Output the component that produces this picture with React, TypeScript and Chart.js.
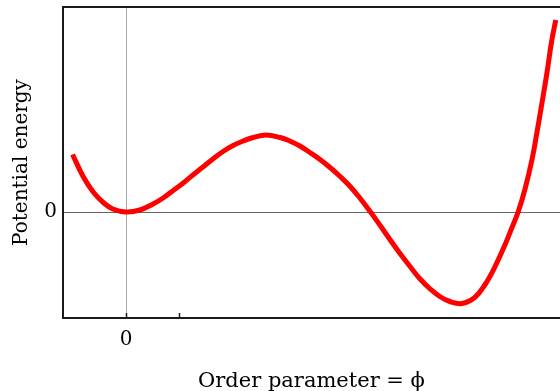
import React, { useEffect, useRef } from "react";
import { Chart, registerables } from "chart.js";

Chart.register(...registerables);

// Order parameter (phi) values
const PHI = [
  -1.01, -0.81, -0.62, -0.43, -0.25, 0, 0.26, 0.51, 0.7, 0.89, 1.08, 1.26, 1.45,
  1.64, 1.83, 2.02, 2.21, 2.4, 2.64, 2.91, 3.09, 3.28, 3.47, 3.66, 3.85, 4.04,
  4.23, 4.42, 4.6, 4.79, 4.98, 5.17, 5.36, 5.55, 5.74, 5.92, 6.11, 6.34, 6.58,
  6.77, 6.96, 7.15, 7.28, 7.4, 7.53, 7.66, 7.75, 7.84, 7.94, 8.03, 8.11,
];
// Potential energy values
const ENERGY = [
  1.15, 0.71, 0.4, 0.19, 0.06, 0, 0.04, 0.16, 0.28, 0.43, 0.58, 0.74, 0.9, 1.06,
  1.21, 1.33, 1.42, 1.49, 1.54, 1.49, 1.42, 1.32, 1.19, 1.05, 0.89, 0.71, 0.51,
  0.27, 0.02, -0.26, -0.55, -0.83, -1.09, -1.34, -1.54, -1.69, -1.79, -1.83,
  -1.71, -1.46, -1.1, -0.66, -0.32, 0, 0.46, 1.04, 1.56, 2.12, 2.76, 3.4, 3.84,
];

const X_TICKS = [0, 1];
const X_TICK_LABELS = ["0", ""];
const Y_TICKS = [0];
const Y_TICK_LABELS = ["0"];

const X_RANGE = [-1.19, 8.19];
const Y_RANGE = [-2.12, 4.1];

const X_TITLE = "Order parameter = ϕ";
const Y_TITLE = "Potential energy";

const FONT = "'DejaVu Serif', 'Liberation Serif', serif";

const framePlugin = {
  id: "frame",
  afterDraw(chart: any) {
    const { ctx, chartArea, scales } = chart;
    ctx.save();
    ctx.strokeStyle = "#1a1a1a";
    ctx.lineWidth = 2;
    ctx.beginPath();
    ctx.moveTo(chartArea.left - 1, chartArea.top);
    ctx.lineTo(chartArea.right, chartArea.top);
    ctx.stroke();
    // inner tick marks on the bottom axis
    ctx.lineWidth = 1.5;
    const xs = scales.x;
    xs.ticks.forEach((t: any) => {
      const px = Math.round(xs.getPixelForValue(t.value)) + 0.5;
      ctx.beginPath();
      ctx.moveTo(px, chartArea.bottom);
      ctx.lineTo(px, chartArea.bottom - 5);
      ctx.stroke();
    });
    ctx.restore();
  },
};

export default function App() {
  const ref = useRef<HTMLCanvasElement | null>(null);

  useEffect(() => {
    if (!ref.current) return;
    const chart = new Chart(ref.current, {
      type: "line",
      data: {
        datasets: [
          {
            data: PHI.map((x, i) => ({ x, y: ENERGY[i] })),
            borderColor: "#ff0000",
            borderWidth: 5,
            pointRadius: 0,
            fill: false,
            tension: 0.4,
            borderJoinStyle: "round",
          },
        ],
      },
      options: {
        animation: false,
        responsive: false,
        devicePixelRatio: 1,
        layout: { padding: { top: 7, left: 0, right: 0, bottom: 0 } },
        plugins: { legend: { display: false }, tooltip: { enabled: false } },
        scales: {
          x: {
            type: "linear",
            min: X_RANGE[0],
            max: X_RANGE[1],
            afterBuildTicks: (axis: any) => {
              axis.ticks = X_TICKS.map((v) => ({ value: v }));
            },
            afterFit: (axis: any) => {
              axis.height = 73;
              axis.paddingLeft = 0;
              axis.paddingRight = 0;
              axis.paddingTop = 0;
              axis.paddingBottom = 0;
            },
            ticks: {
              callback: (v: any) => {
                const i = X_TICKS.indexOf(Number(v));
                return i >= 0 ? X_TICK_LABELS[i] : "";
              },
              font: { family: FONT, size: 20 },
              color: "#000",
              padding: 10,
              maxRotation: 0,
            },
            grid: {
              drawTicks: false,
              color: (c: any) => (c.tick && c.tick.value === 0 ? "#aaaaaa" : "rgba(0,0,0,0)"),
              lineWidth: 1,
            },
            border: { color: "#1a1a1a", width: 2 },
            title: {
              display: true,
              text: X_TITLE,
              font: { family: FONT, size: 21 },
              color: "#000",
              padding: { top: 0, bottom: -3 },
            },
          },
          y: {
            type: "linear",
            min: Y_RANGE[0],
            max: Y_RANGE[1],
            afterBuildTicks: (axis: any) => {
              axis.ticks = Y_TICKS.map((v) => ({ value: v }));
            },
            afterFit: (axis: any) => {
              axis.width = 63;
              axis.paddingLeft = 0;
              axis.paddingRight = 0;
              axis.paddingTop = 0;
              axis.paddingBottom = 0;
            },
            ticks: {
              callback: (v: any) => {
                const i = Y_TICKS.indexOf(Number(v));
                return i >= 0 ? Y_TICK_LABELS[i] : "";
              },
              font: { family: FONT, size: 20 },
              color: "#000",
              padding: 6,
            },
            grid: {
              drawTicks: false,
              color: (c: any) => (c.tick && c.tick.value === 0 ? "#666666" : "rgba(0,0,0,0)"),
              lineWidth: 1,
            },
            border: { color: "#1a1a1a", width: 2 },
            title: {
              display: true,
              text: Y_TITLE,
              font: { family: FONT, size: 20 },
              color: "#000",
              padding: { top: 10, bottom: 0 },
            },
          },
        },
      },
      plugins: [framePlugin],
    } as any);
    return () => chart.destroy();
  }, []);

  return (
    <div style={{ position: "fixed", left: 0, top: 0, width: 560, height: 391, background: "#fff" }}>
      <canvas ref={ref} width={560} height={391} />
    </div>
  );
}
